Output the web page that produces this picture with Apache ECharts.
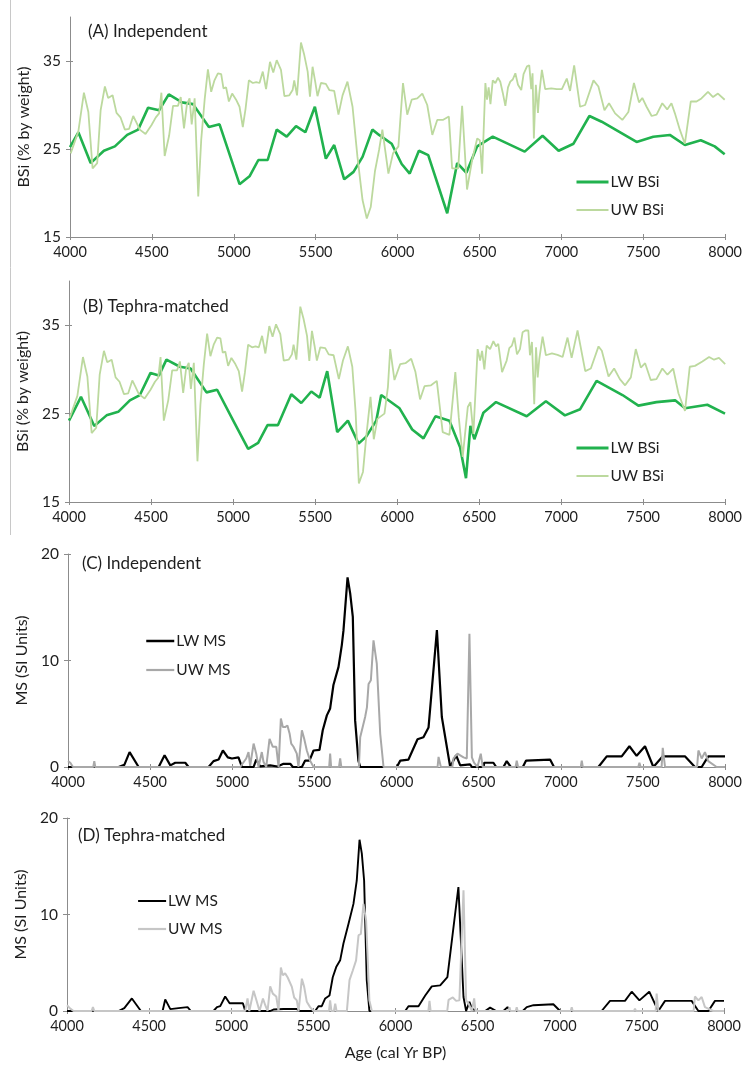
<!DOCTYPE html>
<html>
<head>
<meta charset="utf-8">
<script src="https://cdn.jsdelivr.net/npm/echarts@6/dist/echarts.min.js"></script>
<style>
  html, body { margin: 0; padding: 0; background: #fff; }
  #chart { width: 745px; height: 1066px; }
</style>
</head>
<body>
<div id="chart"></div>
<script>
// Age axis (cal yr BP)
const ageTicks = [4000, 4500, 5000, 5500, 6000, 6500, 7000, 7500, 8000];
const bsiTicks = [15, 25, 35];
const msTicks = [0, 10, 20];

const panelTitles = ['(A) Independent', '(B) Tephra-matched', '(C) Independent', '(D) Tephra-matched'];

// (A) biogenic silica, independent age models: [age, % by weight]
const lwBsiA = [[4000,25.2],[4051,26.9],[4126,23.4],[4207,24.8],[4274,25.3],[4349,26.6],[4416,27.2],[4477,29.7],[4544,29.4],[4603,31.2],[4684,30.3],[4751,30.1],[4848,27.5],[4913,27.8],[5035,21.0],[5096,21.9],[5150,23.75],[5207,23.75],[5262,27.2],[5323,26.4],[5380,27.6],[5437,26.9],[5495,29.8],[5562,23.9],[5613,25.45],[5674,21.55],[5731,22.4],[5786,24.1],[5846,27.2],[5887,26.6],[5964,25.6],[6025,23.3],[6074,22.2],[6130,24.8],[6187,24.3],[6303,17.7],[6364,23.4],[6420,22.3],[6486,25.3],[6581,26.4],[6776,24.7],[6885,26.5],[6983,24.8],[7074,25.6],[7171,28.75],[7246,28.1],[7459,25.8],[7561,26.4],[7662,26.6],[7754,25.45],[7851,26.0],[7936,25.3],[7997,24.4]];
const uwBsiA = [[4004,24.5],[4051,27.0],[4085,31.4],[4112,29.2],[4138,22.8],[4166,23.4],[4187,29.4],[4213,32.1],[4233,30.8],[4260,31.1],[4284,29.1],[4308,28.6],[4335,27.2],[4361,27.3],[4386,28.75],[4406,28.0],[4426,27.2],[4461,26.7],[4497,27.7],[4524,28.6],[4544,29.05],[4558,31.4],[4578,24.2],[4605,26.5],[4629,29.9],[4659,29.9],[4676,30.9],[4696,27.35],[4714,30.1],[4730,30.75],[4743,27.8],[4761,30.75],[4783,19.6],[4801,26.0],[4822,30.6],[4842,34.05],[4862,31.5],[4882,32.8],[4903,33.6],[4923,33.5],[4937,31.9],[4953,32.0],[4970,30.4],[4990,31.3],[5014,30.6],[5035,29.8],[5055,27.5],[5072,29.6],[5092,32.8],[5116,32.5],[5137,32.6],[5157,32.5],[5177,33.8],[5197,31.8],[5221,34.9],[5241,33.7],[5262,35.1],[5288,34.0],[5309,31.0],[5339,31.1],[5359,31.7],[5369,32.8],[5386,31.1],[5410,37.1],[5430,35.7],[5451,33.8],[5465,30.95],[5481,34.35],[5497,32.65],[5511,31.0],[5532,32.5],[5562,32.4],[5583,31.7],[5613,31.6],[5639,28.9],[5664,31.1],[5694,32.65],[5725,29.8],[5755,24.1],[5786,19.2],[5812,17.1],[5836,18.4],[5862,22.5],[5887,24.9],[5907,27.2],[5944,22.2],[5972,24.5],[6005,25.3],[6033,32.5],[6059,28.9],[6086,30.6],[6120,30.75],[6151,31.3],[6181,30.0],[6212,26.6],[6242,28.3],[6276,28.3],[6313,28.7],[6333,22.8],[6370,22.8],[6394,29.9],[6424,20.4],[6455,23.75],[6486,26.2],[6502,26.0],[6516,22.2],[6536,32.5],[6546,30.6],[6556,32.0],[6567,30.1],[6581,32.8],[6597,32.5],[6613,33.1],[6627,32.65],[6642,31.4],[6658,29.9],[6674,32.0],[6688,32.65],[6703,32.9],[6719,33.6],[6735,32.3],[6755,31.7],[6769,33.5],[6790,34.4],[6804,34.5],[6816,31.8],[6824,33.6],[6832,26.2],[6844,32.3],[6857,29.1],[6865,31.3],[6881,34.0],[6901,31.8],[6938,31.9],[6972,31.8],[7003,31.8],[7033,33.0],[7053,31.6],[7078,34.5],[7114,29.8],[7145,30.0],[7196,32.8],[7226,32.1],[7263,29.4],[7291,30.2],[7328,29.05],[7372,28.3],[7409,29.2],[7443,32.5],[7474,30.3],[7494,30.8],[7520,29.8],[7551,28.75],[7581,28.9],[7616,30.2],[7646,29.5],[7672,30.2],[7693,29.05],[7723,27.2],[7754,25.6],[7790,30.4],[7825,30.4],[7855,30.75],[7895,31.5],[7926,30.9],[7956,31.3],[7997,30.6]];

// (B) biogenic silica, tephra-matched age models
const lwBsiB = [[4000,24.2],[4073,26.9],[4154,23.6],[4229,24.8],[4300,25.2],[4371,26.5],[4432,27.1],[4497,29.6],[4548,29.3],[4594,31.1],[4676,30.3],[4741,30.1],[4838,27.4],[4903,27.7],[5010,23.9],[5092,21.0],[5153,21.7],[5210,23.7],[5274,23.7],[5355,27.2],[5416,26.2],[5477,27.5],[5528,26.8],[5574,29.8],[5635,22.9],[5700,24.2],[5765,21.6],[5812,22.4],[5873,24.2],[5903,27.1],[6015,25.6],[6092,23.2],[6161,22.2],[6234,24.7],[6319,24.2],[6384,21.2],[6420,17.7],[6447,23.6],[6471,22.1],[6526,25.1],[6603,26.3],[6790,24.7],[6907,26.4],[7023,24.8],[7116,25.5],[7216,28.7],[7374,27.1],[7471,25.9],[7581,26.3],[7695,26.5],[7755,25.6],[7891,26.0],[7999,25.0]];
const uwBsiB = [[4004,24.5],[4051,27.0],[4085,31.4],[4112,29.2],[4138,22.8],[4166,23.4],[4187,29.4],[4213,32.1],[4233,30.8],[4260,31.1],[4284,29.1],[4308,28.6],[4335,27.2],[4361,27.3],[4386,28.75],[4406,28.0],[4426,27.2],[4461,26.7],[4497,27.7],[4524,28.6],[4544,29.05],[4558,31.4],[4578,24.2],[4605,26.5],[4629,29.9],[4659,29.9],[4676,30.9],[4696,27.35],[4714,30.1],[4730,30.75],[4743,27.8],[4761,30.75],[4783,19.6],[4801,26.0],[4822,30.6],[4842,34.05],[4862,31.5],[4882,32.8],[4903,33.6],[4923,33.5],[4937,31.9],[4953,32.0],[4970,30.4],[4990,31.3],[5014,30.6],[5035,29.8],[5055,27.5],[5072,29.6],[5092,32.8],[5116,32.5],[5137,32.6],[5157,32.5],[5177,33.8],[5197,31.8],[5221,34.9],[5241,33.7],[5262,35.1],[5288,34.0],[5309,31.0],[5339,31.1],[5359,31.7],[5369,32.8],[5386,31.1],[5410,37.1],[5430,35.7],[5451,33.8],[5465,30.95],[5481,34.35],[5497,32.65],[5511,31.0],[5532,32.5],[5562,32.4],[5583,31.7],[5613,31.6],[5645,28.9],[5670,31.0],[5700,32.6],[5727,30.3],[5747,25.2],[5767,17.1],[5792,18.4],[5812,22.4],[5838,26.9],[5858,22.1],[5880,24.4],[5923,25.0],[5944,28.0],[5958,32.3],[5984,28.8],[6019,30.6],[6051,30.7],[6086,31.2],[6112,29.7],[6140,26.6],[6167,28.1],[6207,28.2],[6242,28.7],[6278,22.9],[6319,22.6],[6355,29.7],[6376,24.6],[6400,20.1],[6431,25.75],[6447,26.3],[6465,22.7],[6491,32.3],[6506,31.0],[6518,32.1],[6532,30.0],[6546,32.7],[6567,32.3],[6587,33.2],[6603,32.6],[6617,32.9],[6640,29.7],[6668,31.0],[6684,32.4],[6700,32.7],[6715,33.6],[6731,31.7],[6749,32.3],[6765,34.2],[6782,34.4],[6800,34.4],[6810,31.6],[6822,33.1],[6836,26.05],[6847,32.5],[6857,29.1],[6867,31.2],[6887,33.7],[6907,31.6],[6944,31.8],[6978,31.65],[7009,31.4],[7039,33.6],[7064,31.3],[7100,34.4],[7147,29.8],[7181,30.1],[7228,32.6],[7248,32.1],[7289,29.2],[7323,30.1],[7358,28.9],[7390,28.2],[7425,29.1],[7455,32.3],[7486,30.2],[7512,30.7],[7546,28.8],[7581,28.9],[7617,30.1],[7648,29.4],[7683,30.1],[7715,27.3],[7755,25.3],[7784,30.3],[7816,30.4],[7861,30.9],[7902,31.4],[7932,31.1],[7962,31.3],[8000,30.6]];

// (C) magnetic susceptibility, independent age models: [age, SI units]
const lwMsC = [[4000,0],[4308,0],[4343,0.2],[4375,1.4],[4430,0],[4552,0],[4588,1.1],[4623,0.15],[4653,0.4],[4714,0.4],[4734,0],[4856,0],[4886,0.55],[4917,0.7],[4943,1.55],[4973,0.9],[4998,0.8],[5038,0.9],[5059,0],[5130,0],[5146,0.7],[5170,0.05],[5231,0.15],[5276,0.05],[5312,0.3],[5353,0.3],[5369,0],[5424,0],[5444,0.6],[5470,0.6],[5495,1.55],[5531,1.6],[5551,3.45],[5576,4.85],[5596,5.5],[5616,7.7],[5647,9.4],[5667,11.45],[5677,12.8],[5702,17.8],[5718,16.3],[5734,14.1],[5748,4.4],[5768,0.6],[5779,0],[5832,0],[5840,0.1],[5848,0],[6002,0],[6023,0.6],[6073,0.7],[6128,2.6],[6164,2.8],[6195,3.7],[6246,12.85],[6276,4.7],[6327,0],[6363,1.1],[6388,0.15],[6448,0.25],[6459,0],[6530,0],[6534,0.4],[6590,0.4],[6607,0],[6651,0],[6671,0.55],[6696,0],[6769,0],[6789,0.6],[6935,0.7],[6959,0],[7229,0],[7280,1.0],[7371,1.0],[7418,1.95],[7462,1.05],[7513,1.95],[7564,0],[7621,1.0],[7756,1.0],[7817,0],[7858,0],[7898,1.0],[8000,1.0]];
const uwMsC = [[4000,0.55],[4014,0.4],[4030,0],[4154,0],[4160,0.55],[4166,0],[5048,0],[5085,0.8],[5099,1.4],[5109,0.1],[5130,2.2],[5146,1.25],[5160,0],[5180,1.4],[5190,0.5],[5207,0],[5227,2.65],[5247,1.9],[5268,1.9],[5282,0],[5296,4.55],[5308,3.75],[5322,3.75],[5336,3.9],[5349,3.15],[5359,2.2],[5373,1.9],[5393,1.25],[5403,0],[5424,3.45],[5438,2.65],[5454,1.55],[5474,0.6],[5495,0],[5590,0],[5596,1.25],[5602,0],[5650,0],[5657,0.8],[5664,0],[5771,0],[5779,2.8],[5809,4.7],[5820,5.6],[5830,7.8],[5844,8.15],[5860,11.9],[5880,9.7],[5901,3.1],[5921,0],[6250,0],[6256,0.95],[6270,0],[6340,0],[6347,0.8],[6371,1.25],[6408,0.9],[6428,0.8],[6444,12.5],[6459,0.9],[6472,0.4],[6493,0],[6513,1.25],[6525,0],[6725,0],[6732,0.6],[6740,0],[7122,0],[7128,0.6],[7134,0],[7472,0],[7479,0.4],[7486,0],[7614,0],[7621,1.8],[7635,0],[7830,0],[7838,1.55],[7858,0.8],[7878,1.4],[7898,0.55],[7949,0],[8000,0]];

// (D) magnetic susceptibility, tephra-matched age models
const lwMsD = [[4000,0],[4314,0],[4349,0.3],[4395,1.3],[4450,0],[4582,0],[4598,1.2],[4629,0.2],[4679,0.3],[4734,0.4],[4754,0],[4892,0],[4913,0.4],[4933,0.5],[4963,1.5],[4990,0.8],[5038,0.8],[5071,0.8],[5085,0],[5237,0],[5257,0.15],[5318,0.2],[5399,0.2],[5420,0],[5511,0],[5531,0.5],[5551,0.5],[5572,1.3],[5598,1.6],[5618,3.5],[5639,4.55],[5663,5.25],[5683,7.0],[5714,9.05],[5744,11.1],[5764,13.5],[5781,17.75],[5795,16.3],[5809,13.5],[5825,3.2],[5841,0],[6059,0],[6079,0.5],[6140,0.5],[6181,1.6],[6221,2.55],[6272,2.65],[6316,3.5],[6383,12.85],[6414,1.45],[6430,0],[6450,0.95],[6465,0.25],[6495,0],[6546,0],[6576,0.35],[6613,0],[6657,0],[6682,0.4],[6698,0],[6775,0],[6799,0.4],[6840,0.6],[6961,0.7],[7002,0],[7255,0],[7306,1.05],[7397,1.05],[7438,2.0],[7485,1.1],[7545,2.0],[7600,0],[7641,1.05],[7803,1.05],[7844,0],[7905,0],[7945,1.05],[8000,1.05]];
const uwMsD = [[4000,0.6],[4020,0.25],[4040,0],[4150,0],[4158,0.4],[4166,0],[5085,0],[5099,1.3],[5110,0],[5136,2.1],[5156,0.95],[5172,0],[5193,1.3],[5207,0.6],[5221,0],[5237,2.55],[5253,1.8],[5274,1.5],[5288,0],[5302,4.5],[5314,3.7],[5328,3.9],[5343,3.5],[5355,3.7],[5369,2.5],[5383,1.4],[5399,1.1],[5410,0],[5430,3.35],[5444,2.5],[5460,0.95],[5480,0.4],[5501,0],[5595,0],[5602,1.1],[5610,0],[5625,0],[5633,0.75],[5641,0],[5704,0],[5720,3.2],[5740,4.2],[5760,5.25],[5775,7.85],[5789,8.0],[5805,11.1],[5821,9.4],[5841,1.1],[5856,0],[6200,0],[6207,1.05],[6214,0],[6315,0],[6323,1.15],[6349,1.4],[6369,1.05],[6389,1.1],[6414,12.5],[6430,1.1],[6444,0.8],[6465,0],[6479,1.3],[6487,0],[6688,0],[6694,0.4],[6700,0],[6732,0],[6738,0.4],[6744,0],[7067,0],[7073,0.4],[7079,0],[7452,0],[7458,0.25],[7464,0],[7584,0],[7590,1.8],[7600,0],[7815,0],[7823,1.5],[7844,1.1],[7864,1.45],[7884,0.4],[7935,0],[8000,0]];

const FONT = 'Lato';
const TEXT = '#1e1e1e';
const AXIS = '#8c8c8c';
const GREEN_DARK = '#21b24e';
const GREEN_LIGHT = '#bcd99e';
const GREY_C = '#a8a8a8';
const GREY_D = '#c6c6c6';

// panel frames: [left, top, right, bottom] in pixels
const frames = [
  [70, 17, 727, 237],
  [69, 281, 726, 502],
  [68, 554, 725, 767],
  [67, 818, 724, 1011]
];
const yNameGaps = [29, 29, 28, 28];

const grids = frames.map(f => ({ left: f[0], top: f[1], width: f[2] - f[0], height: f[3] - f[1] }));

const plain = v => String(v);

// main age axes (outer ticks + labels)
const xAxes = frames.map((f, i) => ({
  type: 'value', gridIndex: i, position: 'bottom', min: 4000, max: 8000, interval: 500,
  axisLine: { show: true, onZero: false, lineStyle: { color: AXIS, width: 1 } },
  axisTick: { show: true, inside: false, length: 3, lineStyle: { color: AXIS } },
  axisLabel: { color: TEXT, fontFamily: FONT, fontSize: 14.5, margin: 8,
               customValues: ageTicks, formatter: plain },
  splitLine: { show: false },
  name: i === 3 ? 'Age (cal Yr BP)' : '',
  nameLocation: 'middle', nameGap: 34,
  nameTextStyle: { color: TEXT, fontFamily: FONT, fontSize: 16 }
}));
// companion axes that draw the inner half of each crossing tick
const xInner = frames.map((f, i) => ({
  type: 'value', gridIndex: i, position: 'bottom', min: 4000, max: 8000, interval: 500,
  axisLine: { show: false, onZero: false },
  axisTick: { show: true, inside: true, length: 3, lineStyle: { color: AXIS } },
  axisLabel: { show: false }, splitLine: { show: false }
}));

function yAxis(i, min, max, ticks, name) {
  return {
    type: 'value', gridIndex: i, position: 'left', min: min, max: max, interval: 10,
    axisLine: { show: true, lineStyle: { color: AXIS, width: 1 } },
    axisTick: { show: true, length: 4, lineStyle: { color: AXIS }, customValues: ticks },
    axisLabel: { color: TEXT, fontFamily: FONT, fontSize: 15.5, margin: 9, customValues: ticks },
    splitLine: { show: false },
    name: name, nameLocation: 'middle', nameGap: yNameGaps[i], nameRotate: 90,
    nameTextStyle: { color: TEXT, fontFamily: FONT, fontSize: 16 }
  };
}
function yInner(i, min, max, ticks) {
  return {
    type: 'value', gridIndex: i, position: 'left', min: min, max: max, interval: 10,
    axisLine: { show: false },
    axisTick: { show: true, inside: true, length: 3, lineStyle: { color: AXIS }, customValues: ticks },
    axisLabel: { show: false }, splitLine: { show: false }
  };
}

const yAxes = [
  yAxis(0, 15, 40, bsiTicks, 'BSi (% by weight)'),
  yAxis(1, 15, 40, bsiTicks, 'BSi (% by weight)'),
  yAxis(2, 0, 20, msTicks, 'MS (SI Units)'),
  yAxis(3, 0, 20, msTicks, 'MS (SI Units)'),
  yInner(0, 15, 40, bsiTicks),
  yInner(1, 15, 40, bsiTicks),
  yInner(2, 0, 20, msTicks),
  yInner(3, 0, 20, msTicks)
];

function line(name, data, idx, color, width) {
  return {
    type: 'line', name: name, data: data, xAxisIndex: idx, yAxisIndex: idx,
    showSymbol: false, symbol: 'none', smooth: false, animation: false,
    lineStyle: { color: color, width: width }, itemStyle: { color: color },
    emphasis: { disabled: true }
  };
}

const series = [
  line('LW BSi', lwBsiA, 0, GREEN_DARK, 2.6),
  line('UW BSi', uwBsiA, 0, GREEN_LIGHT, 1.8),
  line('LW BSi', lwBsiB, 1, GREEN_DARK, 2.6),
  line('UW BSi', uwBsiB, 1, GREEN_LIGHT, 1.8),
  line('LW MS', lwMsC, 2, '#000000', 2.2),
  line('UW MS', uwMsC, 2, GREY_C, 2),
  line('LW MS', lwMsD, 3, '#000000', 1.9),
  line('UW MS', uwMsD, 3, GREY_D, 2)
];

// legend entries: plain line keys, the marker itself is hidden
function key(name, color, width) {
  return { name: name, lineStyle: { color: color, width: width }, itemStyle: { opacity: 0, borderWidth: 0 } };
}
function legend(left, top, gap, iconW, items) {
  return {
    orient: 'vertical', left: left, top: top, itemGap: gap, padding: 0,
    itemWidth: iconW, itemHeight: 14, selectedMode: false,
    textStyle: { color: TEXT, fontFamily: FONT, fontSize: 15.5, lineHeight: 18, padding: [0, 0, 0, -3] },
    data: items
  };
}

const legends = [
  legend(575, 173, 10, 32, [key('LW BSi', GREEN_DARK, 3), key('UW BSi', GREEN_LIGHT, 1.8)]),
  legend(575, 439, 10, 32, [key('LW BSi', GREEN_DARK, 3), key('UW BSi', GREEN_LIGHT, 1.8)]),
  legend(145, 632, 11, 28, [key('LW MS', '#000000', 2.5), key('UW MS', GREY_C, 2.2)]),
  legend(137, 892, 10, 28, [key('LW MS', '#000000', 2), key('UW MS', GREY_D, 2.2)])
];

// panel labels, placed inside each plot area near the top-left
const titlePos = [[88, 23], [83, 298], [82, 555], [78, 827]];
const titles = panelTitles.map((t, i) => ({
  text: t, left: titlePos[i][0], top: titlePos[i][1], padding: 0,
  textStyle: { color: TEXT, fontFamily: FONT, fontSize: 17, fontWeight: 'normal' }
}));

const chart = echarts.init(document.getElementById('chart'), null, { renderer: 'canvas' });
chart.setOption({
  animation: false,
  backgroundColor: '#ffffff',
  title: titles,
  legend: legends,
  grid: grids,
  xAxis: xAxes.concat(xInner),
  yAxis: yAxes,
  series: series,
  graphic: [{
    type: 'line', silent: true,
    shape: { x1: 10.5, y1: 0, x2: 10.5, y2: 535 },
    style: { stroke: '#c8c8c8', lineWidth: 1 }
  }]
});
</script>
</body>
</html>
